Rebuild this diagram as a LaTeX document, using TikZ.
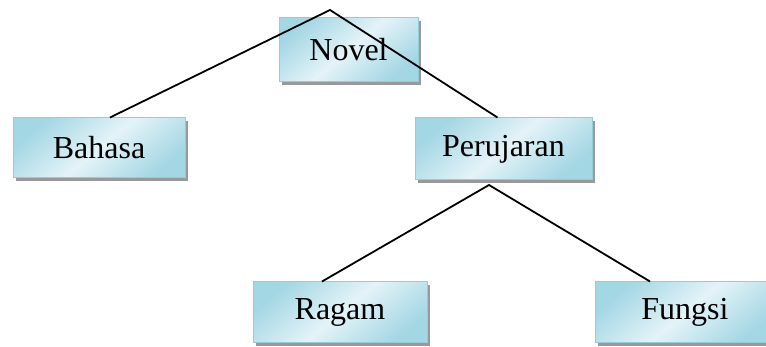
\documentclass[tikz,border=0pt]{standalone}
\usepackage{fontspec}
\setmainfont{Liberation Serif}
\usetikzlibrary{shadows,calc}
\definecolor{boxedge}{HTML}{92CDDC}
\definecolor{boxdark}{HTML}{A4D7E4}
\definecolor{boxlight}{HTML}{E4F3F8}
\tikzset{
  termbox/.style={rectangle, draw=boxedge, line width=1pt, inner sep=0pt,
    top color=boxdark, bottom color=boxdark, middle color=boxlight, shading angle=40,
    drop shadow={shadow xshift=3pt, shadow yshift=-3pt, fill=black!50, opacity=0.8},
    font=\fontsize{32}{38}\selectfont},
  link/.style={draw=black, line width=1.8pt}
}
\begin{document}
\begin{tikzpicture}[x=1pt, y=-1pt]
  \useasboundingbox (0,0) rectangle (766,347);
  \clip (0,0) rectangle (766,347);
  \node[termbox, minimum width=139pt, minimum height=64pt] (novel) at (348.5,50) {Novel};
  \node[termbox, minimum width=172pt, minimum height=60pt] (bahasa) at (99,148) {Bahasa};
  \node[termbox, minimum width=177pt, minimum height=62pt] (perujaran) at (503.5,149) {Perujaran};
  \node[termbox, minimum width=174pt, minimum height=61pt] (ragam) at (340,312.5) {Ragam};
  \node[termbox, minimum width=180pt, minimum height=61pt] (fungsi) at (685,312.5) {Fungsi};
  \coordinate (apex) at (330,10);
  \coordinate (fork) at (489,185);
  \draw[link] ($(bahasa.north)+(11,0)$) -- (apex) -- ($(perujaran.north)+(-6,0)$);
  \draw[link] ($(ragam.north)+(-18,0)$) -- (fork) -- ($(fungsi.north)+(-35,0)$);
\end{tikzpicture}
\end{document}
